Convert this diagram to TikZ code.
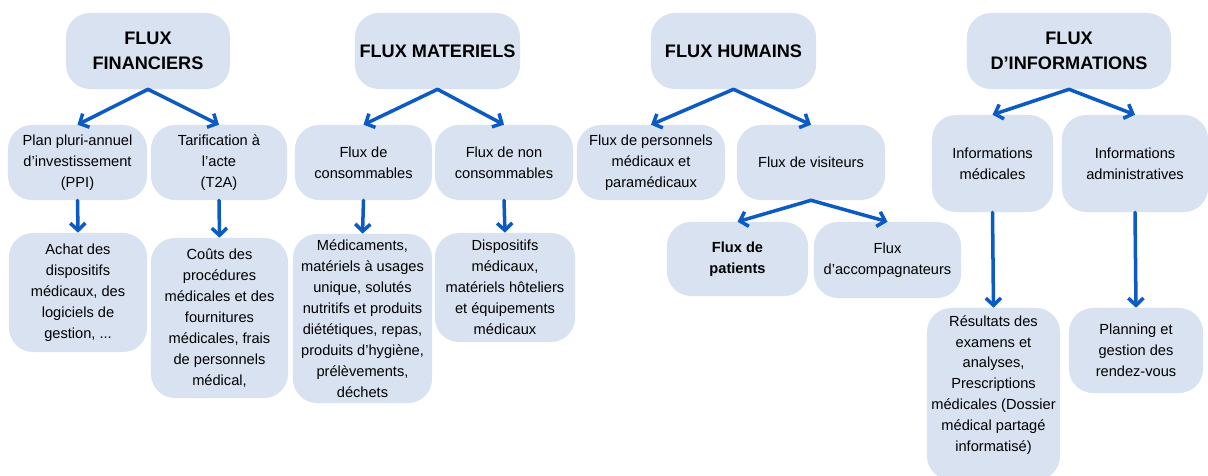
\documentclass[tikz,border=0pt]{standalone}
\usepackage{fontspec}
\setmainfont{Liberation Sans}
\usetikzlibrary{arrows.meta}
\definecolor{boxblue}{RGB}{217,226,240}
\definecolor{arrowblue}{RGB}{12,90,196}

\begin{document}
\begin{tikzpicture}[
    x=0.025cm, y=-0.025cm,
    box/.style={rectangle, rounded corners=0.6cm, fill=boxblue, align=center, inner sep=0pt, minimum height=1.875cm, font=\fontsize{10.4}{14.9}\selectfont},
    titlebox/.style={box, minimum height=1.9cm, font=\fontsize{12.9}{17.7}\selectfont\bfseries},
    arrow/.style={-{Straight Barb[length=1.8mm,width=3.8mm]}, line width=2.5pt, arrowblue, line cap=round},
  ]
    \useasboundingbox (0,0) rectangle (1208,475);

    % Main flows
    \node[titlebox, minimum width=4.1cm] (fin) at (148,51) {FLUX\\FINANCIERS};
    \node[titlebox, minimum width=4.125cm] (mat) at (437.5,51) {FLUX MATERIELS};
    \node[titlebox, minimum width=4.125cm] (hum) at (733.5,51) {FLUX HUMAINS};
    \node[titlebox, minimum width=5.1cm] (info) at (1069,51) {FLUX\\D’INFORMATIONS};

    % Second level
    \node[box, minimum width=3.475cm] (ppi) at (77.5,162.5) {Plan pluri-annuel\\d’investissement\\(PPI)};
    \node[box, minimum width=3.4cm] (t2a) at (219,162.5) {Tarification à\\l’acte\\(T2A)};
    \node[box, minimum width=3.425cm] (conso) at (363.5,162.5) {Flux de\\consommables};
    \node[box, minimum width=3.45cm] (nonconso) at (504,162.5) {Flux de non\\consommables};
    \node[box, minimum width=3.7cm] (perso) at (651,162.5) {Flux de personnels\\médicaux et\\paramédicaux};
    \node[box, minimum width=3.7cm] (visit) at (811,162.5) {Flux de visiteurs};
    \node[box, minimum width=3.025cm, minimum height=2.425cm] (infomed) at (992.5,163.5) {Informations\\médicales};
    \node[box, minimum width=3.65cm, minimum height=2.425cm] (infoadm) at (1135,163.5) {Informations\\administratives};

    % Third level
    \node[box, minimum width=3.45cm, minimum height=2.975cm] (achat) at (78,292.5) {Achat des\\dispositifs\\médicaux, des\\logiciels de\\gestion, ...};
    \node[box, minimum width=3.425cm, minimum height=4cm] (couts) at (219.5,318) {Coûts des\\procédures\\médicales et des\\fournitures\\médicales, frais\\de personnels\\médical,};
    \node[box, minimum width=3.475cm, minimum height=4.225cm] (medic) at (362.5,318.5) {Médicaments,\\matériels à usages\\unique, solutés\\nutritifs et produits\\diététiques, repas,\\produits d’hygiène,\\prélèvements,\\déchets};
    \node[box, minimum width=3.5cm, minimum height=2.725cm] (dispo) at (505,287.5) {Dispositifs\\médicaux,\\matériels hôteliers\\et équipements\\médicaux};
    \node[box, minimum width=3.525cm, minimum height=1.85cm, font=\fontsize{10.4}{14.9}\selectfont\bfseries] (patients) at (737.5,259) {Flux de\\patients};
    \node[box, minimum width=3.675cm, minimum height=1.9cm] (accomp) at (887.5,260) {Flux\\d’accompagnateurs};
    \node[box, minimum width=3.325cm, minimum height=4.3cm] (result) at (993.5,394) {Résultats des\\examens et\\analyses,\\Prescriptions\\médicales (Dossier\\médical partagé\\informatisé)\\\mbox{}};
    \node[box, minimum width=3.35cm, minimum height=2.125cm] (planning) at (1136,350.5) {Planning et\\gestion des\\rendez-vous};

    % Arrows
    \draw[arrow] (fin.south) -- (ppi.north);
    \draw[arrow] (fin.south) -- (t2a.north);
    \draw[arrow] (mat.south) -- (conso.north);
    \draw[arrow] (mat.south) -- (nonconso.north);
    \draw[arrow] (hum.south) -- (perso.north);
    \draw[arrow] (hum.south) -- (visit.north);
    \draw[arrow] (info.south) -- (infomed.north);
    \draw[arrow] (info.south) -- (infoadm.north);
    \draw[arrow] (ppi.south) -- (achat.north);
    \draw[arrow] (t2a.south) -- (couts.north);
    \draw[arrow] (conso.south) -- (medic.north);
    \draw[arrow] (nonconso.south) -- (dispo.north);
    \draw[arrow] (visit.south) -- (patients.north);
    \draw[arrow] (visit.south) -- (accomp.north);
    \draw[arrow] (infomed.south) -- (result.north);
    \draw[arrow] (infoadm.south) -- (planning.north);
\end{tikzpicture}
\end{document}
